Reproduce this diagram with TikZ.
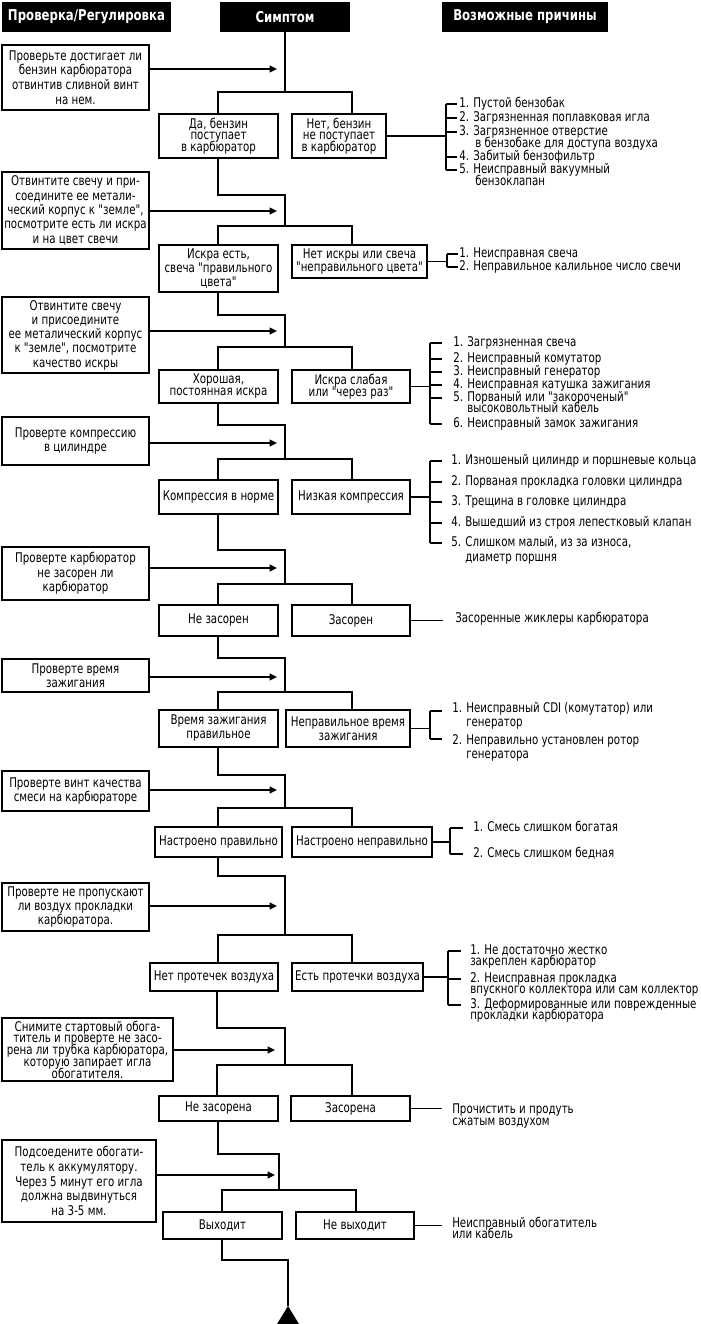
\documentclass[tikz,border=0pt]{standalone}
\usepackage{fontspec}
\newfontfamily\dv{DejaVu Sans}[FakeStretch=0.77]
\newfontfamily\dvh{DejaVu Sans}[FakeStretch=0.785]
\usetikzlibrary{arrows.meta}
\newdimen\px \px=0.75pt
\newcommand\tfs[1]{\dv\fontsize{10pt}{#1}\selectfont\lineskiplimit=-20pt\relax}
\begin{document}
\begin{tikzpicture}[x=0.75pt,y=-0.75pt,
  ln/.style={line width=1.25pt},
  br/.style={line width=1pt},
  arr/.style={line width=1.25pt,-{Triangle[length=5.5pt,width=5pt]}},
  hdr/.style={fill=black,text=white,inner sep=0pt,font=\dvh\fontsize{11.2pt}{13pt}\selectfont\bfseries},
  box/.style={draw,line width=1.25pt,fill=white,inner sep=0pt,align=center,font=\tfs{10.9pt}},
  cz/.style={inner sep=0pt,anchor=west,font=\tfs{10pt},text height=7.3pt,text depth=2pt},
]
\fill[white] (0,0) rectangle (700,1324);
\useasboundingbox (0,0) rectangle (700,1324);

% headers
\node[hdr,minimum width=169\px,minimum height=30\px] (h1) at (86.5,17) {Проверка/Регулировка};
\node[hdr,minimum width=130\px,minimum height=30\px] (h2) at (285,17) {Симптом};
\node[hdr,minimum width=166\px,minimum height=30\px] (h3) at (525,17) {Возможные причины};

% left check boxes
\node[box,minimum width=147\px,minimum height=65\px,font=\tfs{11pt}] (l1) at (75.5,77.5) {Проверьте достигает ли\\бензин карбюратора\\отвинтив сливной винт\\на нем.};
\node[box,minimum width=147\px,minimum height=77\px,font=\tfs{10.7pt}] (l2) at (75.5,210.5) {Отвинтите свечу и при-\\соедините ее метали-\\ческий корпус к "земле",\\посмотрите есть ли искра\\и на цвет свечи};
\node[box,minimum width=147\px,minimum height=76\px,font=\tfs{10.7pt}] (l3) at (75.5,335) {Отвинтите свечу\\и присоедините\\ее металический корпус\\к "земле", посмотрите\\качество искры};
\node[box,minimum width=147\px,minimum height=48\px] (l4) at (75.5,441) {Проверте компрессию\\в цилиндре};
\node[box,minimum width=147\px,minimum height=53\px] (l5) at (75.5,573.5) {Проверте карбюратор\\не засорен ли\\карбюратор};
\node[box,minimum width=147\px,minimum height=33\px] (l6) at (75.5,675.5) {Проверте время\\зажигания};
\node[box,minimum width=147\px,minimum height=40\px] (l7) at (75.5,791) {Проверте винт качества\\смеси на карбюраторе};
\node[box,minimum width=147\px,minimum height=48\px,font=\tfs{10.5pt}] (l8) at (75.5,907) {Проверте не пропускают\\ли воздух прокладки\\карбюратора.};
\node[box,minimum width=171\px,minimum height=63\px,font=\tfs{8.8pt}] (l9) at (87.5,1049.5) {Снимите стартовый обога-\\титель и проверте не засо-\\рена ли трубка карбюратора,\\которую запирает игла\\обогатителя.};
\node[box,minimum width=154\px,minimum height=82\px,font=\tfs{11pt}] (l10) at (79,1181) {Подсоедените обогати-\\тель к аккумулятору.\\Через 5 минут его игла\\должна выдвинуться\\на 3-5 мм.};

% symptom boxes
\node[box,minimum width=119\px,minimum height=44\px,font=\tfs{8.6pt}] (r1l) at (218.5,136) {Да, бензин\\поступает\\в карбюратор};
\node[box,minimum width=94\px,minimum height=44\px,font=\tfs{8.6pt}] (r1r) at (339,136) {Нет, бензин\\не поступает\\в карбюратор};
\node[box,minimum width=119\px,minimum height=47\px,font=\tfs{10.5pt}] (r2l) at (218.5,268.5) {Искра есть,\\свеча "правильного\\цвета"};
\node[box,minimum width=135\px,minimum height=33\px,font=\tfs{9.75pt}] (r2r) at (359.5,261.5) {Нет искры или свеча\\"неправильного цвета"};
\node[box,minimum width=119\px,minimum height=33\px,font=\tfs{9pt}] (r3l) at (218.5,386.5) {Хорошая,\\постоянная искра};
\node[box,minimum width=118\px,minimum height=33\px,font=\tfs{9pt}] (r3r) at (351,386.5) {Искра слабая\\или "через раз"};
\node[box,minimum width=119\px,minimum height=34\px] (r4l) at (218.5,497) {Компрессия в норме};
\node[box,minimum width=118\px,minimum height=34\px] (r4r) at (351,497) {Низкая компрессия};
\node[box,minimum width=119\px,minimum height=31\px] (r5l) at (218.5,620.5) {Не засорен};
\node[box,minimum width=118\px,minimum height=31\px] (r5r) at (351,620.5) {Засорен};
\node[box,minimum width=119\px,minimum height=37\px,font=\tfs{10.5pt}] (r6l) at (218.5,728.5) {Время зажигания\\правильное};
\node[box,minimum width=124\px,minimum height=37\px,font=\tfs{10.5pt}] (r6r) at (348,728.5) {Неправильное время\\зажигания};
\node[box,minimum width=127\px,minimum height=30\px] (r7l) at (218.5,842) {Настроено правильно};
\node[box,minimum width=140\px,minimum height=30\px] (r7r) at (362,842) {Настроено неправильно};
\node[box,minimum width=128\px,minimum height=28\px] (r8l) at (214,977) {Нет протечек воздуха};
\node[box,minimum width=131\px,minimum height=28\px] (r8r) at (357.5,977) {Есть протечки воздуха};
\node[box,minimum width=119\px,minimum height=25\px] (r9l) at (218.5,1108.5) {Не засорена};
\node[box,minimum width=119\px,minimum height=25\px] (r9r) at (350.5,1108.5) {Засорена};
\node[box,minimum width=119\px,minimum height=27\px] (r10l) at (222.5,1225.5) {Выходит};
\node[box,minimum width=118\px,minimum height=27\px] (r10r) at (355,1225.5) {Не выходит};

% junction coordinates
\coordinate (m1) at (285,92);
\coordinate (bl1) at (218,92); \coordinate (br1) at (352,92);
\coordinate (t1) at (277,69);
\foreach \i/\S/\T/\B/\A/\L/\R/\X in {2/195/285/226/211/218/352/277,
  3/315/285/347/331/218/352/277,
  4/425/285/459/443/218/352/277,
  5/550/285/584/568/218/352/277,
  6/658/285/692/677/218/352/277,
  7/775/285/808/790/218/352/277,
  8/876/285/935/906/218/352/277,
  9/1028/285/1065/1050/217/352/275,
  10/1154/279/1190/1175/222/356/275}{
  \coordinate (k\i) at (\T,\S);
  \coordinate (m\i) at (\T,\B);
  \coordinate (bl\i) at (\L,\B);
  \coordinate (br\i) at (\R,\B);
  \coordinate (t\i) at (\X,\A);
}
\coordinate (s2) at (218,195); \coordinate (s3) at (218,315);
\coordinate (s4) at (218,425); \coordinate (s5) at (218,550);
\coordinate (s6) at (218,658); \coordinate (s7) at (218,775);
\coordinate (s8) at (218,876); \coordinate (s9) at (217,1028);
\coordinate (s10) at (218,1154); \coordinate (s11) at (222,1260);
\coordinate (k11) at (288,1260);
\coordinate (tri) at (288,1306);

% trunk and branches
\draw[ln] (h2.south) -- (m1);
\draw[ln] (bl1 |- r1l.north) -- (bl1) -- (br1) -- (br1 |- r1r.north);
\draw[arr] (l1.east |- t1) -- (t1);
\foreach \i/\p in {2/1,3/2,4/3,5/4,6/5,7/6,8/7,9/8,10/9}{
  \draw[ln] (r\p l.south -| s\i) -- (s\i) -- (k\i) -- (m\i);
  \draw[ln] (bl\i |- r\i l.north) -- (bl\i) -- (br\i) -- (br\i |- r\i r.north);
  \draw[arr] (l\i.east |- t\i) -- (t\i);
}
\draw[ln] (r10l.south -| s11) -- (s11) -- (k11) -- (tri);
\fill (277,1324) -- (tri) -- (299,1324) -- cycle;

% causes 1
\node[cz] (i11) at (459,104) {1. Пустой бензобак};
\node[cz] (i12) at (459,118) {2. Загрязненная поплавковая игла};
\node[cz] (i13) at (459,132) {3. Загрязненное отверстие};
\node[cz] (i13b) at (475,144) {в бензобаке для доступа воздуха};
\node[cz] (i14) at (459,157) {4. Забитый бензофильтр};
\node[cz] (i15) at (459,170) {5. Неисправный вакуумный};
\node[cz] (i15b) at (475,182) {бензоклапан};
\coordinate (q1a) at (446,104); \coordinate (q1b) at (446,170);
\draw[ln] (r1r.east) -- (r1r.east -| q1a);
\draw[br] (q1a) -- (q1b);
\foreach \n in {i11,i12,i13,i14,i15}{\draw[br] (\n.west -| q1a) -- ([xshift=-1.5pt]\n.west);}

% causes 2
\node[cz] (i21) at (459,254) {1. Неисправная свеча};
\node[cz] (i22) at (459,267) {2. Неправильное калильное число свечи};
\coordinate (q2a) at (447,254); \coordinate (q2b) at (447,267);
\draw[ln] (r2r.east) -- (r2r.east -| q2a);
\draw[br] (q2a) -- (q2b);
\foreach \n in {i21,i22}{\draw[br] (\n.west -| q2a) -- ([xshift=-1pt]\n.west);}

% causes 3
\node[cz] (i31) at (453,343) {1. Загрязненная свеча};
\node[cz] (i32) at (453,359) {2. Неисправный комутатор};
\node[cz] (i33) at (453,372) {3. Неисправный генератор};
\node[cz] (i34) at (453,385) {4. Неисправная катушка зажигания};
\node[cz] (i35) at (453,398) {5. Порваный или "закороченый"};
\node[cz] (i35b) at (467,409) {высоковольтный кабель};
\node[cz] (i36) at (453,424) {6. Неисправный замок зажигания};
\coordinate (q3a) at (430,343); \coordinate (q3b) at (430,424);
\draw[ln] (r3r.east) -- (r3r.east -| q3a);
\draw[br] (q3a) -- (q3b);
\foreach \n in {i31,i32,i33,i34,i35,i36}{\draw[br] (\n.west -| q3a) -- ([xshift=-8pt]\n.west);}

% causes 4
\node[cz] (i41) at (451,461) {1. Изношеный цилиндр и поршневые кольца};
\node[cz] (i42) at (451,482) {2. Порваная прокладка головки цилиндра};
\node[cz] (i43) at (451,502) {3. Трещина в головке цилиндра};
\node[cz] (i44) at (451,523) {4. Вышедший из строя лепестковый клапан};
\node[cz] (i45) at (451,543) {5. Слишком малый, из за износа,};
\node[cz] (i45b) at (465,558) {диаметр поршня};
\coordinate (q4a) at (430,461); \coordinate (q4b) at (430,543);
\draw[ln] (r4r.east) -- (r4r.east -| q4a);
\draw[br] (q4a) -- (q4b);
\foreach \n in {i41,i42,i43,i44,i45}{\draw[br] (\n.west -| q4a) -- ([xshift=-7pt]\n.west);}

% causes 5
\node[cz] (i51) at (455,619) {Засоренные жиклеры карбюратора};
\draw[ln] (r5r.east) -- ([xshift=-9pt]r5r.east -| i51.west);

% causes 6
\node[cz] (i61) at (452,709) {1. Неисправный CDI (комутатор) или};
\node[cz] (i61b) at (466,723) {генератор};
\node[cz] (i62) at (452,741) {2. Неправильно установлен ротор};
\node[cz] (i62b) at (466,755) {генератора};
\coordinate (q6a) at (430,711); \coordinate (q6b) at (430,739);
\draw[ln] (r6r.east) -- (r6r.east -| q6a);
\draw[br] (q6a) -- (q6b);
\draw[br] (q6a) -- ([xshift=-7.5pt]q6a -| i61.west);
\draw[br] (q6b) -- ([xshift=-7.5pt]q6b -| i62.west);

% causes 7
\node[cz] (i71) at (473,828) {1. Смесь слишком богатая};
\node[cz] (i72) at (473,854) {2. Смесь слишком бедная};
\coordinate (q7a) at (450,828); \coordinate (q7b) at (450,854);
\draw[ln] (r7r.east) -- (r7r.east -| q7a);
\draw[br] (q7a) -- (q7b);
\foreach \n in {i71,i72}{\draw[br] (\n.west -| q7a) -- ([xshift=-7.5pt]\n.west);}

% causes 8
\node[cz] (i81) at (470,951) {1. Не достаточно жестко};
\node[cz] (i81b) at (470,962) {закреплен карбюратор};
\node[cz] (i82) at (470,979) {2. Неисправная прокладка};
\node[cz] (i82b) at (470,990) {впускного коллектора или сам коллектор};
\node[cz] (i83) at (470,1005) {3. Деформированные или поврежденные};
\node[cz] (i83b) at (470,1016) {прокладки карбюратора};
\coordinate (q8a) at (448,951); \coordinate (q8b) at (448,1005);
\draw[ln] (r8r.east) -- (r8r.east -| q8a);
\draw[br] (q8a) -- (q8b);
\foreach \n in {i81,i82,i83}{\draw[br] (\n.west -| q8a) -- ([xshift=-7pt]\n.west);}

% causes 9
\node[cz] (i91) at (452,1110) {Прочистить и продуть};
\node[cz] (i91b) at (452,1122) {сжатым воздухом};
\draw[ln] (r9r.east) -- ([xshift=-7.5pt]r9r.east -| i91.west);

% causes 10
\node[cz] (i101) at (452,1224) {Неисправный обогатитель};
\node[cz] (i101b) at (452,1235) {или кабель};
\draw[ln] (r10r.east) -- ([xshift=-7.5pt]r10r.east -| i101.west);
\end{tikzpicture}
\end{document}
